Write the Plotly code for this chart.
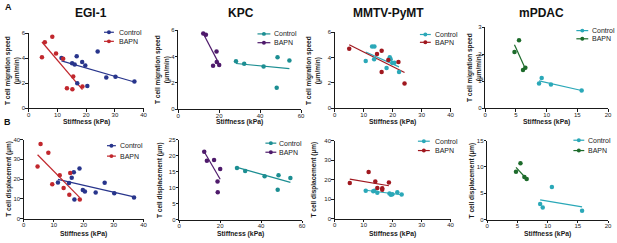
import plotly.graph_objects as go

FONT = "Liberation Sans, Arial, sans-serif"
W, H = 617, 243

# ---------------- data ----------------
# EGI-1
egi_ctrl_stiff = [11.4, 15.1, 16.0, 16.7, 16.9, 18.6, 19.7, 20.4, 24.0, 27.0, 30.2, 36.8]
egi_ctrl_speed = [4.03, 3.61, 3.51, 4.16, 2.00, 3.71, 3.43, 1.79, 4.55, 2.47, 2.52, 2.14]
egi_ctrl_disp = [18.3, 18.0, 20.6, 23.5, 9.7, 25.4, 14.5, 13.7, 13.2, 18.1, 12.8, 10.7]
egi_bapn_stiff = [4.6, 5.6, 8.2, 9.5, 12.0, 13.3, 15.2, 15.5, 18.7]
egi_bapn_speed = [4.08, 5.27, 5.71, 4.39, 3.97, 1.61, 1.53, 2.55, 1.74]
egi_bapn_disp = [26.4, 37.7, 33.3, 17.3, 21.9, 15.5, 12.0, 23.0, 9.7]
egi_ctrl_speed_fit = [3.79, 2.10]
egi_bapn_speed_fit = [5.30, 1.50]
egi_ctrl_disp_fit = [19.8, 11.0]
egi_bapn_disp_fit = [32.3, 10.6]

# KPC
kpc_ctrl_stiff = [28.2, 32.2, 41.7, 48.5, 48.1, 54.3]
kpc_ctrl_speed = [3.65, 3.46, 3.26, 3.95, 1.64, 3.70]
kpc_ctrl_disp = [16.1, 15.2, 13.5, 13.8, 9.3, 13.0]
kpc_bapn_stiff = [12.2, 13.5, 17.0, 18.7, 18.8, 20.0]
kpc_bapn_speed = [5.76, 5.66, 3.31, 4.39, 3.60, 3.36]
kpc_bapn_disp = [21.2, 18.4, 18.6, 11.9, 8.5, 15.8]
kpc_ctrl_speed_fit = [3.48, 3.09]
kpc_bapn_speed_fit = [5.76, 3.43]
kpc_ctrl_disp_fit = [16.3, 11.6]
kpc_bapn_disp_fit = [21.2, 12.6]

# MMTV-PyMT
mmtv_ctrl_stiff_speed = [10.7, 12.9, 13.7, 13.6, 17.9, 19.0, 19.3, 19.9, 20.6, 22.2]
mmtv_ctrl_speed = [3.74, 4.88, 4.88, 3.87, 3.19, 4.03, 3.88, 3.58, 3.60, 2.86]
mmtv_ctrl_stiff_disp = [10.7, 13.3, 13.7, 14.7, 18.9, 19.4, 19.9, 21.6, 23.1]
mmtv_ctrl_disp = [14.3, 14.0, 14.3, 13.2, 12.8, 12.2, 12.5, 13.5, 12.3]
mmtv_bapn_stiff_speed = [5.0, 14.6, 16.2, 16.2, 18.5, 22.0, 24.1]
mmtv_bapn_speed = [4.70, 4.29, 4.55, 2.86, 3.82, 3.66, 1.95]
mmtv_bapn_stiff_disp = [5.2, 11.7, 14.0, 14.7, 16.4, 16.4, 18.7]
mmtv_bapn_disp = [18.2, 23.8, 19.0, 15.7, 15.5, 14.7, 18.5]
mmtv_ctrl_speed_fit = [4.44, 3.27]
mmtv_bapn_speed_fit = [5.01, 2.83]
mmtv_ctrl_disp_fit = [14.5, 12.2]
mmtv_bapn_disp_fit = [20.2, 16.8]

# mPDAC
mpdac_ctrl_stiff = [8.76, 9.19, 10.7, 15.7]
mpdac_ctrl_speed = [0.92, 1.12, 0.88, 0.66]
mpdac_ctrl_disp = [2.94, 2.27, 6.18, 1.65]
mpdac_bapn_stiff = [4.76, 5.50, 6.15, 6.53]
mpdac_bapn_speed = [2.09, 2.52, 1.42, 1.50]
mpdac_bapn_disp = [9.06, 10.7, 8.08, 7.71]
mpdac_ctrl_speed_fit = [1.02, 0.66]
mpdac_bapn_speed_fit = [2.36, 1.47]
mpdac_ctrl_disp_fit = [3.74, 2.39]
mpdac_bapn_disp_fit = [9.9, 7.7]

titles = ["EGI-1", "KPC", "MMTV-PyMT", "mPDAC"]
legend_labels = ["Control", "BAPN"]
speed_title = "T cell migration speed<br>(µm/min)"
disp_title = "T cell displacement (µm)"
x_title = "Stiffness (kPa)"

# ---------------- styling / layout helpers ----------------
def X(px):
    return px / W

def Y(py):
    return 1 - py / H

colors = {
    "egi": ("#28358C", "#C1272D"),
    "kpc": ("#1C8E92", "#4E1A6B"),
    "mmtv": ("#2BA8B8", "#A0181F"),
    "mpdac": ("#2AA8B8", "#1D6B2B"),
}

panels = [
    ("egi", egi_ctrl_stiff, egi_ctrl_speed, egi_bapn_stiff, egi_bapn_speed,
     egi_ctrl_speed_fit, egi_bapn_speed_fit,
     (27, 143), (31, 108), 40, [0, 10, 20, 30, 40], 6, [0, 2, 4, 6],
     (103, 113, 116, 30, 39.3)),
    ("kpc", kpc_ctrl_stiff, kpc_ctrl_speed, kpc_bapn_stiff, kpc_bapn_speed,
     kpc_ctrl_speed_fit, kpc_bapn_speed_fit,
     (178, 302), (28, 109), 60, [0, 20, 40, 60], 6, [0, 2, 4, 6],
     (258, 271, 273, 31.7, 40.7)),
    ("mmtv", mmtv_ctrl_stiff_speed, mmtv_ctrl_speed, mmtv_bapn_stiff_speed, mmtv_bapn_speed,
     mmtv_ctrl_speed_fit, mmtv_bapn_speed_fit,
     (336, 453), (30, 108), 40, [0, 10, 20, 30, 40], 6, [0, 2, 4, 6],
     (422, 433, 435, 32.3, 40.3)),
    ("mpdac", mpdac_ctrl_stiff, mpdac_ctrl_speed, mpdac_bapn_stiff, mpdac_bapn_speed,
     mpdac_ctrl_speed_fit, mpdac_bapn_speed_fit,
     (488, 612), (25, 108), 20, [0, 5, 10, 15, 20], 3, [0, 1, 2, 3],
     (580, 592, 594, 28.3, 36.7)),
    ("egi", egi_ctrl_stiff, egi_ctrl_disp, egi_bapn_stiff, egi_bapn_disp,
     egi_ctrl_disp_fit, egi_bapn_disp_fit,
     (22, 143), (140, 221), 40, [0, 10, 20, 30, 40], 40, [0, 10, 20, 30, 40],
     (106, 115, 117, 146.3, 157)),
    ("kpc", kpc_ctrl_stiff, kpc_ctrl_disp, kpc_bapn_stiff, kpc_bapn_disp,
     kpc_ctrl_disp_fit, kpc_bapn_disp_fit,
     (179, 303), (140, 222), 60, [0, 20, 40, 60], 25, [0, 5, 10, 15, 20, 25],
     (266, 277, 278, 143.7, 153)),
    ("mmtv", mmtv_ctrl_stiff_disp, mmtv_ctrl_disp, mmtv_bapn_stiff_disp, mmtv_bapn_disp,
     mmtv_ctrl_disp_fit, mmtv_bapn_disp_fit,
     (336, 453), (141, 221), 40, [0, 10, 20, 30, 40], 40, [0, 10, 20, 30, 40],
     (420, 432, 435, 141.7, 151.3)),
    ("mpdac", mpdac_ctrl_stiff, mpdac_ctrl_disp, mpdac_bapn_stiff, mpdac_bapn_disp,
     mpdac_ctrl_disp_fit, mpdac_bapn_disp_fit,
     (490, 612), (141, 222), 20, [0, 5, 10, 15, 20], 15, [0, 5, 10, 15],
     (577, 588, 590, 140.7, 151.3)),
]

fig = go.Figure()
layout = dict(
    width=W, height=H, margin=dict(l=0, r=0, t=0, b=0),
    paper_bgcolor="white", plot_bgcolor="rgba(0,0,0,0)",
    showlegend=False, font=dict(family=FONT, color="#1a1a1a"),
)
shapes, annotations = [], []

for i, p in enumerate(panels, start=1):
    (key, cx, cy, bx, by, cfit, bfit, xd, yd, xmax, xt, ymax, yt, leg) = p
    ccol, bcol = colors[key]
    xa = "x" if i == 1 else f"x{i}"
    ya = "y" if i == 1 else f"y{i}"
    axis_common = dict(
        showline=True, linecolor="#1a1a1a", linewidth=1, ticks="outside",
        ticklen=2.5, tickwidth=1, tickcolor="#1a1a1a", showgrid=False,
        zeroline=False, tickfont=dict(size=6, family=FONT, color="#1a1a1a"),
        fixedrange=True,
    )
    layout["xaxis" if i == 1 else f"xaxis{i}"] = dict(
        axis_common, domain=[X(xd[0]), X(xd[1])], range=[0, xmax],
        tickvals=xt, anchor=ya, ticklabelstandoff=-2)
    layout["yaxis" if i == 1 else f"yaxis{i}"] = dict(
        axis_common, domain=[Y(yd[1]), Y(yd[0])], range=[0, ymax],
        tickvals=yt, anchor=xa, ticklabelstandoff=-1)

    fig.add_trace(go.Scatter(x=[min(cx), max(cx)], y=cfit, mode="lines",
                             line=dict(color=ccol, width=1.2), xaxis=xa, yaxis=ya,
                             cliponaxis=False, hoverinfo="skip"))
    fig.add_trace(go.Scatter(x=[min(bx), max(bx)], y=bfit, mode="lines",
                             line=dict(color=bcol, width=1.2), xaxis=xa, yaxis=ya,
                             cliponaxis=False, hoverinfo="skip"))
    fig.add_trace(go.Scatter(x=cx, y=cy, mode="markers", name="Control",
                             marker=dict(color=ccol, size=4.5), xaxis=xa, yaxis=ya,
                             cliponaxis=False))
    fig.add_trace(go.Scatter(x=bx, y=by, mode="markers", name="BAPN",
                             marker=dict(color=bcol, size=4.5), xaxis=xa, yaxis=ya,
                             cliponaxis=False))

    lx0, lx1, tx, ly0, ly1 = leg
    for lab, col, ly in ((legend_labels[0], ccol, ly0), (legend_labels[1], bcol, ly1)):
        shapes.append(dict(type="line", xref="paper", yref="paper",
                           x0=X(lx0), x1=X(lx1), y0=Y(ly), y1=Y(ly),
                           line=dict(color=col, width=1.2)))
        mx = (lx0 + lx1) / 2
        shapes.append(dict(type="circle", xref="paper", yref="paper",
                           x0=X(mx - 2), x1=X(mx + 2), y0=Y(ly + 2), y1=Y(ly - 2),
                           fillcolor=col, line=dict(color=col, width=0)))
        annotations.append(dict(text=lab, x=X(tx), y=Y(ly), xref="paper", yref="paper",
                                xanchor="left", yanchor="middle", showarrow=False,
                                font=dict(size=7, family=FONT, color="#222")))

    row_a = i <= 4
    annotations.append(dict(text=f"<b>{x_title}</b>", x=X((xd[0] + xd[1]) / 2),
                            y=Y(122.5 if row_a else 237), xref="paper", yref="paper",
                            xanchor="center", yanchor="middle", showarrow=False,
                            font=dict(size=6.8, family=FONT, color="#1a1a1a")))

ytitle_x = [10.3, 161.7, 314.7, 476.7, 6.7, 159, 315, 475]
for i, p in enumerate(panels):
    yd = p[8]
    txt = speed_title if i < 4 else disp_title
    annotations.append(dict(text=f"<b>{txt}</b>", x=X(ytitle_x[i]),
                            y=Y((yd[0] + yd[1]) / 2), xref="paper", yref="paper",
                            xanchor="center", yanchor="middle", textangle=-90,
                            showarrow=False,
                            font=dict(size=6.5, family=FONT, color="#1a1a1a")))

title_x = [90, 241, 390, 545]
for t, tx in zip(titles, title_x):
    annotations.append(dict(text=f"<b>{t}</b>", x=X(tx), y=Y(10.5), xref="paper",
                            yref="paper", xanchor="center", yanchor="middle",
                            showarrow=False,
                            font=dict(size=12, family=FONT, color="#111")))

annotations.append(dict(text="<b>A</b>", x=X(1), y=Y(4), xref="paper", yref="paper",
                        xanchor="left", yanchor="middle", showarrow=False,
                        font=dict(size=9, family=FONT, color="#111")))
annotations.append(dict(text="<b>B</b>", x=X(0.5), y=Y(121.5), xref="paper", yref="paper",
                        xanchor="left", yanchor="middle", showarrow=False,
                        font=dict(size=9, family=FONT, color="#111")))

layout["shapes"] = shapes
layout["annotations"] = annotations
fig.update_layout(**layout)
fig.write_html("out.html", config={"displayModeBar": False, "staticPlot": True},
               post_script="document.body.style.margin='0';document.body.style.overflow='hidden';")
